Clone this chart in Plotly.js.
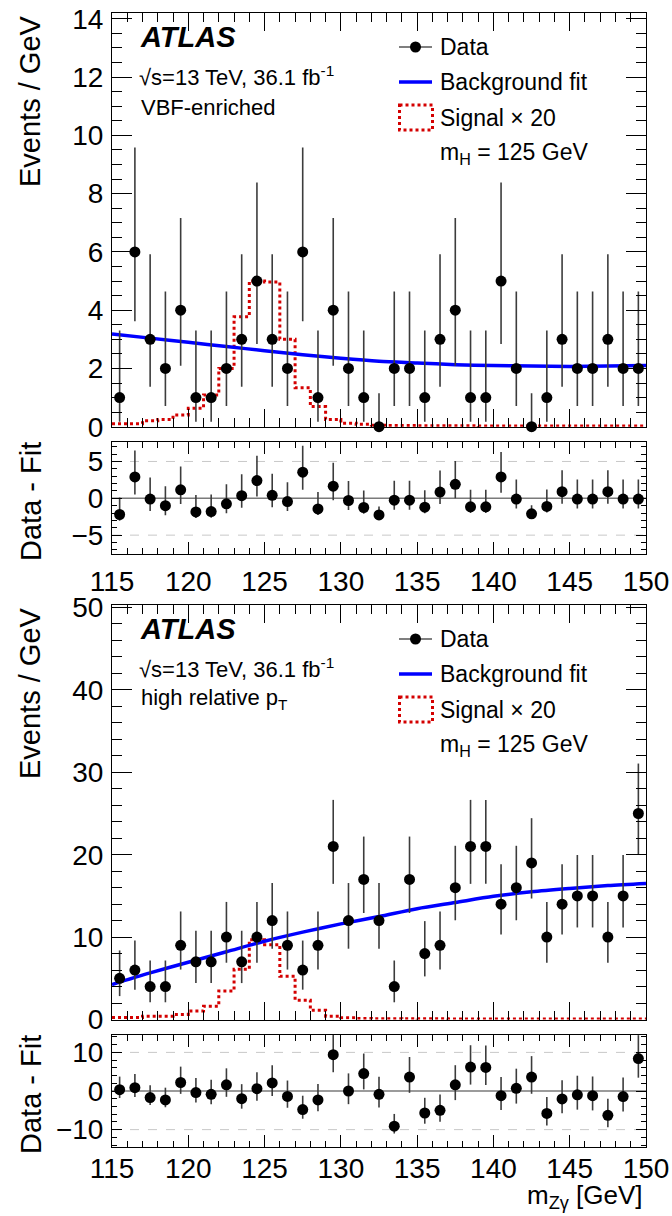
<!DOCTYPE html>
<html>
<head>
<meta charset="utf-8">
<script src="https://cdn.plot.ly/plotly-3.0.1.min.js"></script>
<style>
  html, body { margin: 0; padding: 0; background: #fff; }
  #chart { width: 672px; height: 1216px; }
</style>
</head>
<body>
<div id="chart"></div>
<script>
// m_Zγ bin centres (1 GeV bins, 115–150 GeV)
const massBins = [115.5, 116.5, 117.5, 118.5, 119.5, 120.5, 121.5, 122.5, 123.5, 124.5,
                  125.5, 126.5, 127.5, 128.5, 129.5, 130.5, 131.5, 132.5, 133.5, 134.5,
                  135.5, 136.5, 137.5, 138.5, 139.5, 140.5, 141.5, 142.5, 143.5, 144.5,
                  145.5, 146.5, 147.5, 148.5, 149.5];

// VBF-enriched category
const vbfData = [1, 6, 3, 2, 4, 1, 1, 2, 3, 5, 3, 2, 6, 1, 4, 2, 1, 0, 2, 2,
                 1, 3, 4, 1, 1, 5, 2, 0, 1, 3, 2, 2, 3, 2, 2];
const vbfResidual = [-2.2, 2.9, -0.1, -1.0, 1.15, -1.85, -1.8, -0.75, 0.35, 2.4,
                     0.4, -0.45, 3.55, -1.45, 1.65, -0.3, -1.25, -2.25, -0.25, -0.25,
                     -1.2, 0.85, 1.9, -1.15, -1.15, 2.9, -0.1, -2.1, -1.1, 0.9,
                     -0.1, -0.1, 0.9, -0.1, -0.1];
const vbfSignal = [0.1, 0.1, 0.2, 0.25, 0.4, 0.63, 1.09, 2.0, 3.77, 5.0,
                   4.97, 3.0, 1.34, 0.69, 0.25, 0.12, 0.08, 0.05, 0.04, 0.04,
                   0.03, 0.03, 0.03, 0.03, 0.02, 0.02, 0.02, 0.02, 0.02, 0.02,
                   0.02, 0.02, 0.02, 0.02, 0.02];

// High relative pT category
const ptData = [5, 6, 4, 4, 9, 7, 7, 10, 7, 10, 12, 9, 6, 9, 21, 12, 17, 12, 4, 17,
                8, 9, 16, 21, 21, 14, 16, 19, 10, 14, 15, 15, 10, 15, 25];
const ptResidual = [0.35, 0.85, -1.7, -2.3, 2.2, -0.4, -0.85, 1.6, -2.0, 0.6,
                    2.1, -1.4, -4.8, -2.3, 9.4, 0.0, 4.5, -0.85, -9.1, 3.6,
                    -5.7, -5.0, 1.6, 6.2, 6.1, -1.2, 0.7, 3.6, -5.8, -2.05,
                    -1.0, -1.2, -6.3, -1.45, 8.4];
const ptSignal = [0.24, 0.24, 0.4, 0.4, 0.62, 1.04, 1.6, 3.47, 6.09, 9.68,
                  9.08, 5.24, 2.34, 1.13, 0.4, 0.2, 0.12, 0.1, 0.1, 0.09,
                  0.08, 0.08, 0.07, 0.07, 0.06, 0.06, 0.06, 0.05, 0.05, 0.05,
                  0.05, 0.05, 0.05, 0.05, 0.05];

// Background fit curves, sampled every 2.5 GeV
const fitMass = [115, 117.5, 120, 122.5, 125, 127.5, 130, 132.5, 135, 137.5, 140, 142.5, 145, 147.5, 150];
const vbfFit = [3.18, 3.04, 2.9, 2.75, 2.61, 2.47, 2.35, 2.25, 2.19, 2.13, 2.1, 2.08, 2.07, 2.08, 2.1];
const ptFit  = [4.25, 5.65, 6.95, 8.22, 9.5, 10.6, 11.6, 12.5, 13.45, 14.2, 14.95, 15.5, 15.9, 16.25, 16.5];

// 68% Poisson intervals (down, up) per observed count
const poissonInterval = {
  0: [0, 1.15], 1: [0.83, 2.30], 2: [1.29, 2.64], 3: [1.63, 2.92], 4: [1.91, 3.16],
  5: [2.16, 3.38], 6: [2.38, 3.58], 7: [2.58, 3.77], 8: [2.77, 3.94], 9: [2.94, 4.11],
  10: [3.11, 4.27], 12: [3.41, 4.56], 14: [3.70, 4.83], 15: [3.83, 4.96], 16: [3.96, 5.08],
  17: [4.08, 5.20], 19: [4.32, 5.43], 21: [4.54, 5.65], 25: [4.95, 6.06]
};

const FONT = '"Liberation Sans", Arial, Helvetica, sans-serif';
const RED = '#d40000';
const BLUE = '#0000ff';
const ERRCOL = '#3c3c3c';

// figure geometry (pixels)
const W = 672, H = 1216, ML = 112, MR = 26, MT = 13, MB = 69;
const PW = W - ML - MR, PH = H - MT - MB;
const fx = px => (px - ML) / PW;
const fy = py => (H - MB - py) / PH;
const PANEL_SHIFT = 592;

const binEdges = massBins.map(c => c - 0.5).concat([massBins[massBins.length - 1] + 0.5]);
const stepValues = v => v.concat([v[v.length - 1]]);
const errUp = counts => counts.map(n => poissonInterval[n][1]);
const errDown = counts => counts.map(n => poissonInterval[n][0]);

function signalTrace(values, xa, ya) {
  return { x: binEdges, y: stepValues(values), xaxis: xa, yaxis: ya, type: 'scatter', mode: 'lines',
           line: { shape: 'hv', dash: 'dot', width: 3, color: RED }, hoverinfo: 'skip', showlegend: false };
}
function fitTrace(values, xa, ya) {
  return { x: fitMass, y: values, xaxis: xa, yaxis: ya, type: 'scatter', mode: 'lines',
           line: { shape: 'spline', smoothing: 0.8, width: 3.5, color: BLUE }, showlegend: false };
}
function pointTrace(yvals, counts, xa, ya) {
  return { x: massBins, y: yvals, xaxis: xa, yaxis: ya, type: 'scatter', mode: 'markers',
           marker: { size: 11, color: '#000' }, cliponaxis: false,
           error_y: { type: 'data', symmetric: false, array: errUp(counts), arrayminus: errDown(counts),
                      color: ERRCOL, thickness: 1.6, width: 0 },
           showlegend: false };
}

const data = [
  signalTrace(vbfSignal, 'x', 'y'),
  fitTrace(vbfFit, 'x', 'y'),
  pointTrace(vbfData, vbfData, 'x', 'y'),
  pointTrace(vbfResidual, vbfData, 'x2', 'y2'),
  signalTrace(ptSignal, 'x3', 'y3'),
  fitTrace(ptFit, 'x3', 'y3'),
  pointTrace(ptData, ptData, 'x3', 'y3'),
  pointTrace(ptResidual, ptData, 'x4', 'y4')
];

const tickFont = { family: FONT, size: 28, color: '#000' };

function xAxis(anchor, labels, majorLen, minorLen, standoff) {
  return {
    domain: [0, 1], anchor: anchor, range: [115, 150], tick0: 115, dtick: 5,
    ticks: 'inside', ticklen: majorLen, tickwidth: 1, tickcolor: '#000',
    minor: { dtick: 1, ticks: 'inside', ticklen: minorLen, tickwidth: 1, tickcolor: '#000', showgrid: false },
    showline: true, linecolor: '#000', linewidth: 1, mirror: 'allticks',
    showgrid: false, zeroline: false, showticklabels: labels, tickfont: tickFont,
    ticklabelstandoff: standoff, fixedrange: true
  };
}
function yAxis(anchor, domain, range, dtick, minorDtick, majorLen, minorLen) {
  return {
    domain: domain, anchor: anchor, range: range, tick0: 0, dtick: dtick,
    ticks: 'inside', ticklen: majorLen, tickwidth: 1, tickcolor: '#000',
    minor: { dtick: minorDtick, ticks: 'inside', ticklen: minorLen, tickwidth: 1, tickcolor: '#000', showgrid: false },
    showline: true, linecolor: '#000', linewidth: 1, mirror: 'allticks',
    showgrid: false, zeroline: false, tickfont: tickFont, ticklabelstandoff: 2, fixedrange: true
  };
}

const annotations = [];
const shapes = [];
function text(px, py, str, size, anchor, extra) {
  annotations.push(Object.assign({
    xref: 'paper', yref: 'paper', x: fx(px), y: fy(py), text: str, showarrow: false,
    xanchor: anchor || 'left', yanchor: 'middle', font: { family: FONT, size: size, color: '#000' }
  }, extra || {}));
}

function panelDecor(shift, label) {
  text(138, 37 + shift, '<b><i>ATLAS</i></b>', 29);
  text(137, 76 + shift, '\u221As=13 TeV, 36.1 fb<sup>-1</sup>', 22);
  text(139, 107 + shift, label, 22);
  // legend
  text(438, 47 + shift, 'Data', 23);
  text(438, 82 + shift, 'Background fit', 23);
  text(438, 118 + shift, 'Signal \u00D7 20', 23);
  text(438, 153 + shift, 'm<sub>H</sub> = 125 GeV', 23);
  shapes.push({ type: 'line', xref: 'paper', yref: 'paper', x0: fx(399), x1: fx(432), y0: fy(47 + shift), y1: fy(47 + shift),
                line: { color: '#000', width: 1.2 } });
  shapes.push({ type: 'circle', xref: 'paper', yref: 'paper', x0: fx(410), x1: fx(421), y0: fy(41.5 + shift), y1: fy(52.5 + shift),
                fillcolor: '#000', line: { width: 0 } });
  shapes.push({ type: 'line', xref: 'paper', yref: 'paper', x0: fx(399), x1: fx(432), y0: fy(82 + shift), y1: fy(82 + shift),
                line: { color: BLUE, width: 3.5 } });
  shapes.push({ type: 'rect', xref: 'paper', yref: 'paper', x0: fx(399.5), x1: fx(432.5), y0: fy(105 + shift), y1: fy(130 + shift),
                line: { color: RED, width: 3, dash: 'dot' } });
}
panelDecor(0, 'VBF-enriched');
panelDecor(PANEL_SHIFT, 'high relative p<sub>T</sub>');

// reference lines in the residual panels
function refLines(xa, ya, level) {
  shapes.push({ type: 'line', xref: xa + ' domain', yref: ya, x0: 0, x1: 1, y0: level, y1: level,
                line: { color: '#c8c8c8', width: 1, dash: 'dash' }, layer: 'below' });
  shapes.push({ type: 'line', xref: xa + ' domain', yref: ya, x0: 0, x1: 1, y0: -level, y1: -level,
                line: { color: '#c8c8c8', width: 1, dash: 'dash' }, layer: 'below' });
  shapes.push({ type: 'line', xref: xa + ' domain', yref: ya, x0: 0, x1: 1, y0: 0, y1: 0,
                line: { color: '#7a7a7a', width: 1.5 }, layer: 'below' });
}
refLines('x2', 'y2', 5);
refLines('x4', 'y4', 10);

// axis titles
const titleFont = 29;
text(30, 101, 'Events / GeV', titleFont, 'center', { textangle: -90 });
text(31, 502, 'Data - Fit', titleFont, 'center', { textangle: -90 });
text(30, 101 + PANEL_SHIFT, 'Events / GeV', titleFont, 'center', { textangle: -90 });
text(31, 1095, 'Data - Fit', titleFont, 'center', { textangle: -90 });
text(645, 1215, 'm<sub>Z\u03B3</sub> [GeV]', 26, 'right', { yanchor: 'bottom' });

const layout = {
  width: W, height: H,
  margin: { l: ML, r: MR, t: MT, b: MB },
  paper_bgcolor: '#fff', plot_bgcolor: '#fff',
  showlegend: false,
  font: { family: FONT, color: '#000' },
  xaxis:  xAxis('y', false, 18, 9, 2),
  xaxis2: xAxis('y2', true, 12, 6, 2),
  xaxis3: xAxis('y3', false, 18, 9, 2),
  xaxis4: xAxis('y4', true, 12, 6, -4),
  yaxis:  yAxis('x',  [fy(426.7), 1], [0, 14.2], 2, 0.5, 20, 10),
  yaxis2: yAxis('x2', [fy(554.3), fy(442.3)], [-7.6, 7.6], 5, 1, 10, 5),
  yaxis3: yAxis('x3', [fy(1019.5), fy(605)], [0, 50.3], 10, 2, 20, 10),
  yaxis4: yAxis('x4', [0, fy(1035)], [-14.5, 14.5], 10, 2, 10, 5),
  annotations: annotations,
  shapes: shapes
};

Plotly.newPlot('chart', data, layout, { staticPlot: true, displayModeBar: false });
</script>
</body>
</html>
